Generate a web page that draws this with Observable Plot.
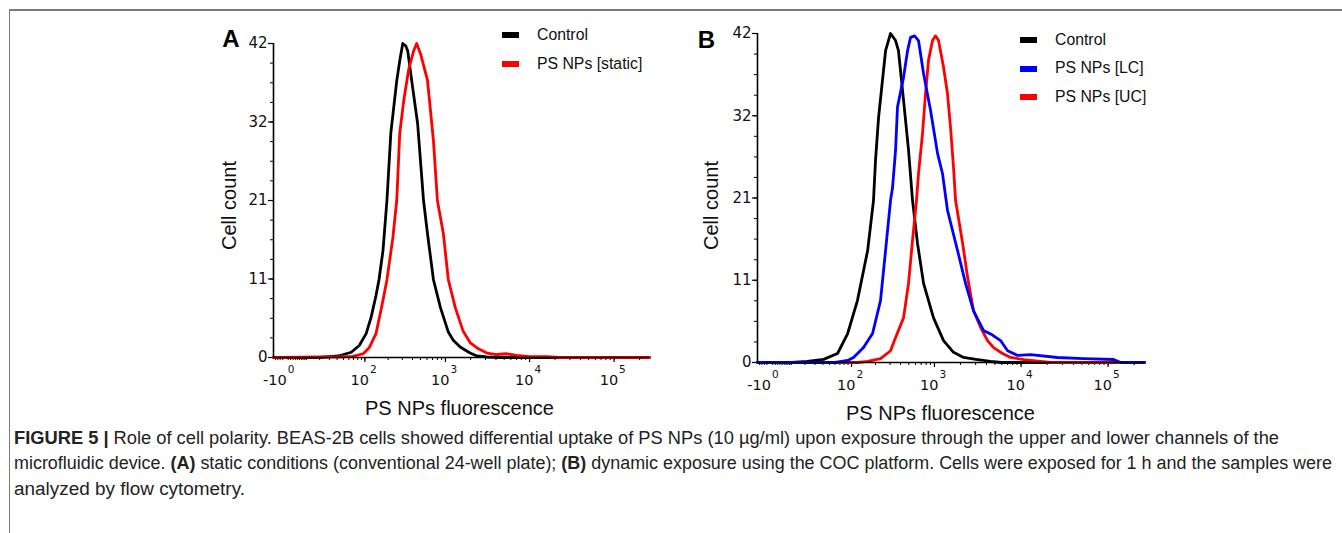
<!DOCTYPE html>
<html>
<head>
<meta charset="utf-8">
<script src="https://cdn.jsdelivr.net/npm/d3@7"></script>
<script src="https://cdn.jsdelivr.net/npm/@observablehq/plot@0.6"></script>
<style>
  html, body { margin: 0; padding: 0; background: #fff; }
  #page { position: relative; width: 1342px; height: 533px; overflow: hidden; background: #fff; font-family: "Liberation Sans", Arial, sans-serif; }
  .abs { position: absolute; }
  .legend-item { position: absolute; font-family: "Liberation Sans", Arial, sans-serif; font-size: 15.8px; line-height: 18px; color: #111; white-space: nowrap; }
  .sw { position: absolute; width: 17px; height: 6px; }
</style>
</head>
<body>
<div id="page">
  <div class="abs" style="left:9px;top:9px;width:1333px;height:1.5px;background:#7a7a7a"></div>
  <div class="abs" style="left:8.5px;top:9px;width:1.5px;height:524px;background:#7a7a7a"></div>
  <div id="panelA" class="abs" style="left:200px;top:0px;width:470px"></div>
  <div id="panelB" class="abs" style="left:680px;top:0px;width:480px"></div>
  <div id="legendA"></div>
  <div id="legendB"></div>
  <div id="caption" class="abs" style="left:0px;top:418px"></div>
</div>
<script>
// ---------------- DATA ----------------
const xDomain = [-5, 262144];
const yMax = 42;
const yMajorTicks = [0, 10.5, 21, 31.5, 42];          // labels rounded: 0, 11, 21, 32, 42
const yMinorStep = 2.625;
const xLabelTicks = [
  {v: -1, base: "-10", exp: "0"},
  {v: 100, base: "10", exp: "2"},
  {v: 1000, base: "10", exp: "3"},
  {v: 10000, base: "10", exp: "4"},
  {v: 100000, base: "10", exp: "5"}
];
const xMajorTickValues = [100, 1000, 10000, 100000];
const xNegMinor = [-1, -2, -3, -4];
const xMultipliers = [1, 2, 3, 4, 5, 6, 7, 8, 9];
const xDecades = [1, 10, 100, 1000, 10000, 100000];

// Panel A series: [fluorescence, cell count]
const A_control = [[-5,0],[20,0],[42,0.2],[65,0.7],[84,1.6],[104,3.2],[121,5.4],[140,8.3],[153,10.4],[172,14.3],[193,21],[216,30],[256,37],[279,39.7],[304,42],[330,41.7],[350,41],[402,36.1],[462,31.3],[545,21],[608,16.6],[718,10.4],[870,6.7],[1083,3.4],[1240,2.3],[1500,1.4],[1970,0.6],[2380,0.2],[3100,0.07],[4400,0],[262144,0]];
const A_static = [[-5,0],[7,0.05],[46,0.1],[68,0.15],[95,0.5],[114,1.3],[140,3.2],[162,6.3],[182,9],[193,10.4],[229,16],[256,21],[279,30],[312,34.3],[359,38.5],[413,41],[450,42],[502,40.6],[608,37.1],[718,29],[801,21],[944,16.6],[1083,10.4],[1310,6.7],[1629,3.5],[1970,2.0],[2445,1.2],[3124,0.6],[4100,0.4],[5360,0.5],[7030,0.27],[10000,0.13],[15800,0.13],[22400,0],[262144,0]];

// Panel B series
const B_control = [[-5,0],[10,0],[22,0.13],[41,0.4],[65,1.15],[89,3.7],[119,7.9],[160,14.3],[189,20.7],[200,25.8],[218,31.3],[243,36],[265,39.8],[304,42],[349,41.1],[378,39.8],[434,33.5],[497,27.1],[554,20.7],[634,15.2],[746,10.1],[975,5.7],[1275,2.8],[1664,1.3],[2173,0.64],[3153,0.38],[4451,0.13],[6000,0],[262144,0]];
const B_LC = [[-5,0],[60,0],[89,0.26],[106,0.64],[142,1.9],[184,3.7],[230,7.9],[265,14.3],[304,20.7],[321,22.3],[349,27.1],[368,32.6],[434,36.4],[484,39.8],[525,41.5],[585,41.7],[651,41.1],[746,36.9],[900,32.2],[1086,26.7],[1241,24.1],[1418,19.4],[1852,14.3],[2292,10.1],[2834,6.6],[3692,4.1],[4693,3.5],[5811,2.8],[6994,1.5],[9113,0.9],[12857,1.0],[26234,0.64],[52260,0.5],[115600,0.38],[140000,0],[262144,0]];
const B_UC = [[-5,0],[120,0],[160,0.13],[230,0.5],[304,1.5],[349,3.2],[434,5.7],[497,10.1],[554,15.6],[617,20.7],[651,24.1],[725,29.2],[786,34.3],[853,38.6],[949,41.1],[1029,41.7],[1115,41.1],[1275,37.7],[1418,34.3],[1537,30.0],[1664,24.9],[1757,20.7],[2115,15.3],[2418,10.9],[2834,6.6],[3412,4.5],[4107,2.8],[4823,1.9],[6120,1.15],[7570,0.64],[10690,0.38],[16760,0.13],[22000,0],[262144,0]];

const legendA = [{label: "Control", color: "#000000"}, {label: "PS NPs [static]", color: "#ff0000"}];
const legendB = [{label: "Control", color: "#000000"}, {label: "PS NPs [LC]", color: "#0000ff"}, {label: "PS NPs [UC]", color: "#ff0000"}];

const xTitle = "PS NPs fluorescence";
const yTitle = "Cell count";

// ---------------- BUILD ----------------
const xMinor = xNegMinor.concat(xDecades.flatMap(d => xMultipliers.map(m => m * d))).concat([200000])
  .filter(v => v > xDomain[0] && v < xDomain[1]);
const yMinor = d3.range(0, yMax + 0.001, yMinorStep);

function toRows(arr) { return arr.map(([v, c]) => ({v, c})); }

function panel(opts) {
  const {series, width, height, mL, mR, mT, mB, letter, letterDx, letterDy, ytDx, ytDy, xtDx, xtDy} = opts;
  const axisFont = "DejaVu Sans, Verdana, sans-serif";
  const titleFont = "Liberation Sans, Arial, sans-serif";
  const marks = [];
  marks.push(Plot.ruleY(yMinor, {y: d => d, x1: xDomain[0], x2: xDomain[0], insetLeft: -3, stroke: "#000", strokeWidth: 1}));
  marks.push(Plot.ruleY(yMajorTicks, {y: d => d, x1: xDomain[0], x2: xDomain[0], insetLeft: -5, stroke: "#000", strokeWidth: 1.2}));
  marks.push(Plot.ruleX(xMinor, {x: d => d, y1: 0, y2: 0, insetBottom: -3, stroke: "#000", strokeWidth: 1}));
  marks.push(Plot.ruleX(xMajorTickValues, {x: d => d, y1: 0, y2: 0, insetBottom: -5, stroke: "#000", strokeWidth: 1.2}));
  for (const s of series) {
    marks.push(Plot.line(toRows(s.data), {x: "v", y: "c", stroke: s.color, strokeWidth: 2.8, strokeLinejoin: "round"}));
  }
  marks.push(Plot.ruleY([0], {stroke: "#000", strokeWidth: 1.6}));
  marks.push(Plot.ruleX([xDomain[0]], {stroke: "#000", strokeWidth: 1.6}));
  marks.push(Plot.text(yMajorTicks, {x: xDomain[0], y: d => d, text: d => String(Math.round(d)), textAnchor: "end", lineAnchor: "middle", dx: -6, fontSize: 15, fontFamily: axisFont, fill: "#111"}));
  marks.push(Plot.text(xLabelTicks, {x: "v", y: 0, text: "base", textAnchor: "end", lineAnchor: "middle", dx: 4, dy: 23, fontSize: 14.5, fontFamily: axisFont, fill: "#111"}));
  marks.push(Plot.text(xLabelTicks, {x: "v", y: 0, text: "exp", textAnchor: "start", lineAnchor: "middle", dx: 5, dy: 12.5, fontSize: 10.5, fontFamily: axisFont, fill: "#111"}));
  marks.push(Plot.text([yTitle], {frameAnchor: "left", textAnchor: "middle", lineAnchor: "middle", dx: ytDx, dy: ytDy, rotate: -90, fontSize: 20, fontFamily: titleFont, fill: "#111"}));
  marks.push(Plot.text([xTitle], {frameAnchor: "bottom", textAnchor: "middle", lineAnchor: "middle", dx: xtDx, dy: xtDy, fontSize: 20, fontFamily: titleFont, fill: "#111"}));
  marks.push(Plot.text([letter], {frameAnchor: "top-left", textAnchor: "middle", lineAnchor: "middle", dx: letterDx, dy: letterDy, fontSize: 24, fontWeight: "bold", fontFamily: titleFont, fill: "#000"}));
  return Plot.plot({
    width, height,
    marginLeft: mL, marginRight: mR, marginTop: mT, marginBottom: mB,
    x: {type: "symlog", constant: 13, domain: xDomain, axis: null},
    y: {domain: [0, yMax], axis: null},
    style: {background: "transparent", overflow: "visible"},
    marks
  });
}

document.getElementById("panelA").appendChild(panel({
  series: [{data: A_control, color: "#000000"}, {data: A_static, color: "#ff0000"}],
  width: 470, height: 430, mL: 73, mR: 21, mT: 43, mB: 73,
  letter: "A", letterDx: -42.5, letterDy: -4,
  ytDx: -44, ytDy: 5, xtDx: -2, xtDy: 51
}));
document.getElementById("panelB").appendChild(panel({
  series: [{data: B_control, color: "#000000"}, {data: B_UC, color: "#ff0000"}, {data: B_LC, color: "#0000ff"}],
  width: 480, height: 430, mL: 77, mR: 16, mT: 33, mB: 68,
  letter: "B", letterDx: -51, letterDy: 6.5,
  ytDx: -46, ytDy: 7.5, xtDx: -10.5, xtDy: 51
}));

function drawLegend(id, items, swX, txtX, y0, step) {
  const el = document.getElementById(id);
  items.forEach((it, i) => {
    const cy = y0 + i * step;
    const sw = document.createElement("div");
    sw.className = "sw";
    sw.style.left = swX + "px"; sw.style.top = (cy - 3) + "px"; sw.style.background = it.color;
    el.appendChild(sw);
    const t = document.createElement("div");
    t.className = "legend-item";
    t.style.left = txtX + "px"; t.style.top = (cy - 9.5) + "px";
    t.textContent = it.label;
    el.appendChild(t);
  });
}
drawLegend("legendA", legendA, 502, 537, 35, 29);
drawLegend("legendB", legendB, 1020, 1055, 40, 28.5);

const capLines = [
  {parts: [["FIGURE 5 | ", true], ["Role of cell polarity. BEAS-2B cells showed differential uptake of PS NPs (10 µg/ml) upon exposure through the upper and lower channels of the", false]], width: 1265},
  {parts: [["microfluidic device. ", false], ["(A)", true], [" static conditions (conventional 24-well plate); ", false], ["(B)", true], [" dynamic exposure using the COC platform. Cells were exposed for 1 h and the samples were", false]], width: 1318},
  {parts: [["analyzed by flow cytometry.", false]], width: 231}
];
const NS = "http://www.w3.org/2000/svg";
const cap = document.createElementNS(NS, "svg");
cap.setAttribute("width", 1342); cap.setAttribute("height", 115);
capLines.forEach((ln, i) => {
  const t = document.createElementNS(NS, "text");
  t.setAttribute("x", 14);
  t.setAttribute("y", 25.5 + i * 25.5);
  t.setAttribute("font-family", "Liberation Sans, Arial, sans-serif");
  t.setAttribute("font-size", 18);
  t.setAttribute("fill", "#222");
  t.setAttribute("textLength", ln.width);
  t.setAttribute("lengthAdjust", "spacingAndGlyphs");
  ln.parts.forEach(([s, b]) => {
    const ts = document.createElementNS(NS, "tspan");
    if (b) ts.setAttribute("font-weight", "bold");
    ts.textContent = s;
    t.appendChild(ts);
  });
  cap.appendChild(t);
});
document.getElementById("caption").appendChild(cap);
</script>
</body>
</html>
